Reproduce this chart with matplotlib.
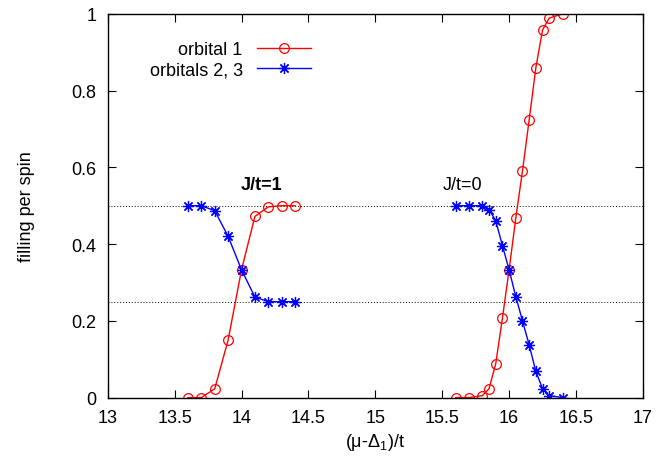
import matplotlib
matplotlib.use("Agg")
import matplotlib.pyplot as plt

plt.rcParams['font.family'] = ['Liberation Sans', 'DejaVu Sans']
plt.rcParams['mathtext.fontset'] = 'custom'
plt.rcParams['mathtext.rm'] = 'Liberation Sans'
plt.rcParams['mathtext.it'] = 'Liberation Sans:italic'

# J/t = 1
x_j1 = [13.6, 13.7, 13.8, 13.9, 14.0, 14.1, 14.2, 14.3, 14.4]
orb1_j1 = [0.0, 0.0, 0.023, 0.15, 0.333, 0.472, 0.497, 0.5, 0.5]
orb23_j1 = [0.5, 0.5, 0.487, 0.42, 0.333, 0.262, 0.25, 0.25, 0.25]

# J/t = 0
x_j0 = [15.6, 15.7, 15.8, 15.85, 15.9, 15.95, 16.0, 16.05, 16.1, 16.15,
        16.2, 16.25, 16.3, 16.4]
orb1_j0 = [0.0, 0.0, 0.005, 0.023, 0.088, 0.207, 0.333, 0.468, 0.591,
           0.724, 0.86, 0.958, 0.989, 1.0]
orb23_j0 = [0.5, 0.5, 0.5, 0.49, 0.461, 0.396, 0.333, 0.263, 0.2, 0.137,
            0.068, 0.023, 0.005, 0.0]

ref_levels = [0.5, 0.25]
xticks = [13, 13.5, 14, 14.5, 15, 15.5, 16, 16.5, 17]
yticks = [0, 0.2, 0.4, 0.6, 0.8, 1]

fig = plt.figure(figsize=(6.69, 4.64), dpi=100)
ax = fig.add_axes([0.161, 0.141, 0.8, 0.827])

for lv in ref_levels:
    ax.axhline(lv, color='black', linestyle=(0, (1, 2)), linewidth=0.7)

star = (8, 2, 0)
red_kw = dict(color='#ff0000', linewidth=1.0, marker='o', markersize=7,
              markerfacecolor='none', markeredgewidth=0.9)
blue_kw = dict(color='#0000ff', linewidth=1.0, marker=star, markersize=8,
               markeredgewidth=0.9)

ax.plot(x_j1, orb1_j1, label='orbital 1', **red_kw)
ax.plot(x_j1, orb23_j1, label='orbitals 2, 3', **blue_kw)
ax.plot(x_j0, orb1_j0, **red_kw)
ax.plot(x_j0, orb23_j0, **blue_kw)

ax.text(14.15, 0.556, 'J/t=1', fontsize=13, fontweight='bold',
        ha='center', va='center')
ax.text(15.65, 0.556, 'J/t=0', fontsize=13, ha='center', va='center')

ax.set_xlim(13, 17)
ax.set_ylim(0, 1)
ax.set_xticks(xticks)
ax.set_xticklabels([f'{t:g}' for t in xticks])
ax.set_yticks(yticks)
ax.set_yticklabels([f'{t:g}' for t in yticks])
ax.tick_params(direction='in', top=True, right=True, length=6,
               labelsize=13, pad=8)
for s in ax.spines.values():
    s.set_linewidth(1.0)

ax.set_xlabel('(μ-Δ$_1$)/t', fontsize=13)
ax.set_ylabel('filling per spin', fontsize=13, labelpad=26)

ax.legend(loc='center right', bbox_to_anchor=(0.404, 0.88), frameon=False,
          markerfirst=False, fontsize=13, handlelength=3.0,
          handletextpad=0.8, labelspacing=0.2, borderpad=0.2)

fig.savefig('out.png', dpi=100)
